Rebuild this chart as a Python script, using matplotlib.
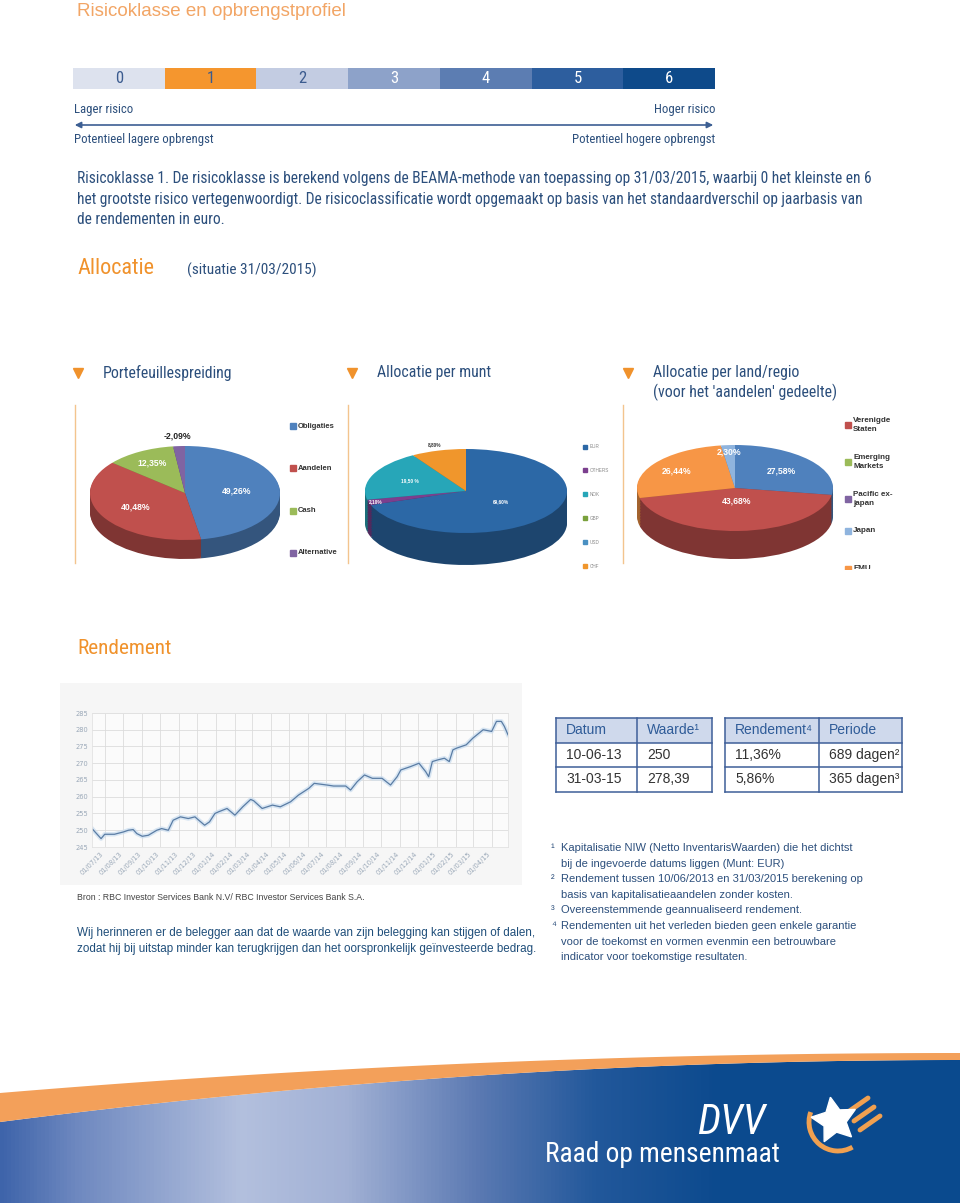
import numpy as np
import matplotlib
matplotlib.use('Agg')
import matplotlib.pyplot as plt
import matplotlib.dates as mdates
from matplotlib.patches import Rectangle, Polygon, Arc
from matplotlib.colors import LinearSegmentedColormap, to_rgb
from matplotlib import font_manager as fm

W, H = 960, 1203
SANS = ['Liberation Sans', 'DejaVu Sans']
# pick a condensed face if one is installed
_names = {f.name for f in fm.fontManager.ttflist}
NARROW = [n for n in ['Roboto Condensed', 'Liberation Sans Narrow', 'Open Sans Condensed', 'Lato']
          if n in _names][:1] + ['DejaVu Sans']
SCALE = 1.0 if NARROW[0] != 'DejaVu Sans' else 0.8
DARK = '#2c4f7c'
ORANGE = '#f0922c'

# ---- data -------------------------------------------------------------
risk_classes = ['0', '1', '2', '3', '4', '5', '6']
risk_colors = ['#dde2ee', '#f5962e', '#c3cce2', '#8da2c9', '#5c7db2', '#2d5e9e', '#0e4a8a']
risk_text = ['#3b5b8f', '#3b5b8f', '#3b5b8f', 'white', 'white', 'white', 'white']

port_labels = ['Obligaties', 'Aandelen', 'Cash', 'Alternative']
port_values = [49.26, 40.48, 12.35, -2.09]
port_colors = ['#4f81bd', '#c0504d', '#9bbb59', '#8064a2']

cur_labels = ['EUR', 'OTHERS', 'NOK', 'GBP', 'USD', 'CHF']
cur_values = [69.60, 2.10, 19.50, 0.0, 0.0, 8.80]
cur_colors = ['#2c68a6', '#7b3f8e', '#27a6b8', '#7aa13c', '#4a90c2', '#f0962c']

reg_labels = ['Verenigde\nStaten', 'Emerging\nMarkets', 'Pacific ex-\njapan', 'Japan', 'EMU', 'Europa ex-EMU']
reg_values = [43.68, 0.0, 0.0, 2.30, 26.44, 27.58]
reg_colors = ['#c0504d', '#9bbb59', '#8064a2', '#8fb4de', '#f79646', '#4f81bd']
reg_order = [5, 0, 1, 2, 4, 3]   # clockwise from 12 o'clock

nav_dates = ['2013-06-11', '2013-06-25', '2013-07-01', '2013-07-17', '2013-08-01', '2013-08-09',
             '2013-08-17', '2013-08-23', '2013-09-01', '2013-09-11', '2013-09-25', '2013-10-03',
             '2013-10-14', '2013-10-22', '2013-11-03', '2013-11-16', '2013-11-27', '2013-12-02',
             '2013-12-13', '2013-12-21', '2013-12-30', '2014-01-05', '2014-01-19', '2014-02-01',
             '2014-02-14', '2014-02-27', '2014-03-04', '2014-03-18', '2014-04-04', '2014-04-17',
             '2014-05-04', '2014-05-17', '2014-06-03', '2014-06-12', '2014-07-03', '2014-07-14',
             '2014-08-03', '2014-08-11', '2014-08-22', '2014-09-03', '2014-09-16', '2014-10-02',
             '2014-10-16', '2014-10-27', '2014-11-02', '2014-11-18', '2014-12-02', '2014-12-13',
             '2014-12-18', '2014-12-24', '2015-01-02', '2015-01-13', '2015-01-21', '2015-01-27',
             '2015-02-02', '2015-02-18', '2015-03-01', '2015-03-18', '2015-04-01', '2015-04-09',
             '2015-04-17', '2015-04-22', '2015-04-28']
nav_values = [250.3, 247.5, 248.8, 248.8, 249.5, 250.0, 250.2, 249.0, 248.2, 248.5, 250.0, 250.5,
              250.0, 253.0, 254.0, 253.5, 254.0, 253.2, 251.5, 252.5, 255.0, 255.5, 256.5, 254.5,
              257.0, 259.2, 258.8, 256.5, 257.5, 257.0, 258.5, 260.5, 262.5, 264.0, 263.5, 263.2,
              263.2, 262.0, 264.5, 266.5, 265.5, 265.5, 263.5, 266.0, 268.0, 269.0, 270.0, 267.5,
              266.0, 270.5, 271.0, 271.5, 270.5, 274.0, 274.5, 275.5, 277.5, 280.0, 279.5, 282.5,
              282.5, 281.0, 278.5]

table_left = [['Datum', 'Waarde¹'], ['10-06-13', '250'], ['31-03-15', '278,39']]
table_right = [['Rendement⁴', 'Periode'], ['11,36%', '689 dagen²'], ['5,86%', '365 dagen³']]

footnotes = [('¹', ['Kapitalisatie NIW (Netto InventarisWaarden) die het dichtst',
                    'bij de ingevoerde datums liggen (Munt: EUR)']),
             ('²', ['Rendement tussen 10/06/2013 en 31/03/2015 berekening op',
                    'basis van kapitalisatieaandelen zonder kosten.']),
             ('³', ['Overeenstemmende geannualiseerd rendement.']),
             ('⁴', ['Rendementen uit het verleden bieden geen enkele garantie',
                    'voor de toekomst en vormen evenmin een betrouwbare',
                    'indicator voor toekomstige resultaten.'])]


def fbox(x0, y0, x1, y1):
    return [x0 / W, 1 - y1 / H, (x1 - x0) / W, (y1 - y0) / H]


fig = plt.figure(figsize=(W / 100, H / 100), dpi=100)
page = fig.add_axes([0, 0, 1, 1])
page.set_xlim(0, W)
page.set_ylim(H, 0)
page.axis('off')


def ntext(x, y, s, size, color=DARK, ax=None, **kw):
    # condensed page text
    (ax or page).text(x, y, s, color=color, fontsize=size * SCALE, family=NARROW,
                      fontstretch='condensed', va='center', **kw)


# ---- risk class -------------------------------------------------------
page.text(77, 11, 'Risicoklasse en opbrengstprofiel', color='#f2a565', fontsize=13.5,
          family=SANS, va='center')
rax = fig.add_axes(fbox(73, 68, 715, 89))
rax.bar(np.arange(len(risk_classes)), 1, width=1, align='edge', color=risk_colors)
for i, c in enumerate(risk_classes):
    ntext(i + 0.5, 0.5, c, 12, color=risk_text[i], ax=rax, ha='center')
rax.set_xlim(0, 7)
rax.set_ylim(0, 1)
rax.axis('off')

ntext(74, 110, 'Lager risico', 9.2)
ntext(715, 110, 'Hoger risico', 9.2, ha='right')
ntext(74, 140, 'Potentieel lagere opbrengst', 9.2)
ntext(715, 140, 'Potentieel hogere opbrengst', 9.2, ha='right')
page.annotate('', xy=(716, 125), xytext=(72, 125),
              arrowprops=dict(arrowstyle='<|-|>', color='#3d5f93', lw=1.2, mutation_scale=9))

para = ['Risicoklasse 1. De risicoklasse is berekend volgens de BEAMA-methode van toepassing op 31/03/2015, waarbij 0 het kleinste en 6',
        'het grootste risico vertegenwoordigt. De risicoclassificatie wordt opgemaakt op basis van het standaardverschil op jaarbasis van',
        'de rendementen in euro.']
for i, line in enumerate(para):
    ntext(77, 179 + 20 * i, line, 11.2)

# ---- allocation -------------------------------------------------------
ntext(77, 268, 'Allocatie', 16, color=ORANGE)
ntext(187, 270, '(situatie 31/03/2015)', 11)

for x, t in [(78, 'Portefeuillespreiding'), (352, 'Allocatie per munt'), (628, 'Allocatie per land/regio')]:
    page.plot(x, 373, marker='v', ms=7, color=ORANGE)
    ntext(x + 25, 373, t, 11.4)
ntext(653, 392, "(voor het 'aandelen' gedeelte)", 11.4)

for x in [75, 348, 623]:
    page.plot([x, x], [405, 563], color='#f3c48e', lw=1)


def pie3d(cx, cy, rx, ry, t, sizes, colors, texts, dist, tcolors, fs):
    ax = fig.add_axes(fbox(cx - rx, cy - ry, cx + rx, cy + ry + t))
    dark = [tuple(v * 0.66 for v in to_rgb(c)) for c in colors]
    for off in np.linspace(t / ry, 0, 18, endpoint=False):
        ax.pie(sizes, colors=dark, startangle=90, counterclock=False, center=(0, -off),
               wedgeprops=dict(linewidth=0))
    wedges, _ = ax.pie(sizes, colors=colors, startangle=90, counterclock=False,
                       wedgeprops=dict(linewidth=0))
    for w, s, d, tc in zip(wedges, texts, dist, tcolors):
        if not s:
            continue
        a = np.deg2rad((w.theta1 + w.theta2) / 2)
        ax.text(d * np.cos(a), d * np.sin(a), s, ha='center', va='center', color=tc,
                fontsize=fs, fontweight='bold', family=SANS)
    ax.set_aspect('auto')
    ax.set_xlim(-1, 1)
    ax.set_ylim(-1 - t / ry, 1)
    ax.axis('off')


def legend(x0, x1, names, colors, ys, fs, tcolor, bold=True):
    lax = fig.add_axes(fbox(x0, 405, x1, 569))
    lax.set_xlim(x0, x1)
    lax.set_ylim(569, 405)
    lax.axis('off')
    for n, c, y in zip(names, colors, ys):
        lax.plot(x0 + 4, y, marker='s', ms=fs * 0.8, color=c, lw=0)
        lax.text(x0 + 9, y, n, va='center', fontsize=fs, color=tcolor, family=SANS,
                 fontweight='bold' if bold else 'normal', linespacing=1.4, clip_on=True)


def pct(v):
    return ('%.2f%%' % v).replace('.', ',')


pie3d(185, 493, 95, 47, 19, [abs(v) for v in port_values], port_colors,
      [pct(v) for v in port_values], [0.55, 0.6, 0.72, 1.22], ['white', 'white', 'white', '#222222'], 6.2)
legend(289, 345, port_labels, port_colors, [426, 468, 511, 553], 5.5, '#333333')

cur_txt = [pct(v) if v else '' for v in cur_values]
cur_txt[2] = cur_txt[2].replace('%', ' %')
pie3d(466, 491, 101, 42, 32, cur_values, cur_colors, cur_txt,
      [0.42, 0.93, 0.6, 0, 0, 1.15], ['white', 'white', 'white', 'white', 'white', '#333333'], 3.4)
legend(581, 620, cur_labels, cur_colors, [447, 470, 494, 518, 542, 566], 3.3, '#888888', bold=False)

pie3d(735, 488, 98, 43, 28, [reg_values[i] for i in reg_order], [reg_colors[i] for i in reg_order],
      [pct(reg_values[i]) if reg_values[i] else '' for i in reg_order],
      [0.62, 0.3, 0, 0, 0.72, 0.85], ['white'] * 6, 6.2)
legend(844, 960, reg_labels[:5], reg_colors[:5], [425, 462, 499, 531, 569], 5.8, '#333333')

# ---- rendement --------------------------------------------------------
ntext(77, 648, 'Rendement', 15.3, color=ORANGE)
page.add_patch(Rectangle((60, 683), 462, 202, facecolor='#f6f6f6', edgecolor='none'))

lax = fig.add_axes(fbox(92, 713, 508, 847))
d = np.array(nav_dates, dtype='datetime64[D]')
lax.plot(d, nav_values, color='#c9dcef', lw=3.2, alpha=0.7)
lax.plot(d, nav_values, color='#5a7ca4', lw=0.9)
lax.set_facecolor('#fbfbfb')
lax.set_ylim(245, 285)
lax.set_yticks(np.arange(245, 286, 5))
lax.set_xlim(np.datetime64('2013-06-10'), np.datetime64('2015-04-28'))
lax.set_xticks(np.arange(np.datetime64('2013-07'), np.datetime64('2015-05'), np.timedelta64(1, 'M')).astype('datetime64[D]'))
lax.xaxis.set_major_formatter(mdates.DateFormatter('%d/%m/%y'))
lax.grid(True, color='#dcdcdc', lw=0.6)
lax.tick_params(length=0, labelsize=4.8, colors='#9aa8b8', pad=3)
for lb in lax.get_xticklabels():
    lb.set_rotation(45)
    lb.set_ha('right')
for s in lax.spines.values():
    s.set_color('#e2e2e2')
    s.set_linewidth(0.6)

page.text(77, 898, 'Bron : RBC Investor Services Bank N.V/ RBC Investor Services Bank S.A.',
          color='#444444', fontsize=6.3, family=SANS, va='center')
page.text(77, 933, 'Wij herinneren er de belegger aan dat de waarde van zijn belegging kan stijgen of dalen,',
          color='#1f4e7a', fontsize=8.4, family=SANS, va='center')
page.text(77, 949, 'zodat hij bij uitstap minder kan terugkrijgen dan het oorspronkelijk geïnvesteerde bedrag.',
          color='#1f4e7a', fontsize=8.4, family=SANS, va='center')


def draw_table(x0, widths, rows, top=718, rh=24.5):
    xs = np.concatenate([[x0], x0 + np.cumsum(widths)])
    page.add_patch(Rectangle((x0, top), xs[-1] - x0, rh, facecolor='#cfd9ec', edgecolor='none'))
    for r, row in enumerate(rows):
        for c, txt in enumerate(row):
            page.text(xs[c] + 10, top + rh * (r + 0.5), txt, va='center', fontsize=10, family=SANS,
                      color='#2e5b98' if r == 0 else '#333333')
    for r in range(len(rows) + 1):
        page.plot([xs[0], xs[-1]], [top + r * rh] * 2, color='#3f5f99', lw=1.1)
    for x in xs:
        page.plot([x, x], [top, top + rh * len(rows)], color='#3f5f99', lw=1.1)


draw_table(556, [81, 75], table_left)
draw_table(725, [94, 83], table_right)

y = 848
for sup, lines in footnotes:
    page.text(551, y, sup, color=DARK, fontsize=8, family=SANS, va='center')
    for ln in lines:
        page.text(561, y, ln, color=DARK, fontsize=8, family=SANS, va='center')
        y += 15.6

# ---- footer -----------------------------------------------------------
xs = np.linspace(0, W, 200)
blue_top = 1060 + 62 * (1 - xs / W) ** 2
orange_top = 1053 + 40 * (1 - xs / W) ** 2
page.add_patch(Polygon(np.column_stack([np.r_[xs, xs[::-1]], np.r_[orange_top, blue_top[::-1]]]),
                       facecolor='#f3a05a', edgecolor='none'))
clip = Polygon(np.column_stack([np.r_[xs, W, 0], np.r_[blue_top, H, H]]), facecolor='none', edgecolor='none')
page.add_patch(clip)
cmap = LinearSegmentedColormap.from_list('footer', [(0, '#3e64aa'), (0.08, '#6f89c0'), (0.25, '#b3c0de'),
                                                    (0.36, '#a2b1d5'), (0.5, '#5a79b2'), (0.62, '#22589b'),
                                                    (0.75, '#0c4a8e'), (1, '#0a4a8e')])
im = page.imshow(np.linspace(0, 1, 256)[None, :], extent=(0, W, H, 1040), cmap=cmap, aspect='auto')
im.set_clip_path(clip)
page.set_xlim(0, W)
page.set_ylim(H, 0)

ntext(545, 1155, 'Raad op mensenmaat', 19.8, color='white')
ntext(697, 1122, 'DVV', 30, color='white', style='italic')
page.add_patch(Arc((838, 1122), 58, 58, theta1=60, theta2=200, color='#f0a050', lw=3.5))
for k in range(3):
    page.plot([848 + 6 * k, 868 + 6 * k], [1112 + 9 * k, 1098 + 9 * k], color='#f0a050', lw=3.5,
              solid_capstyle='round')
page.plot(834, 1120, marker=(5, 1, 10), ms=34, color='white')

fig.savefig('out.png', dpi=100)
